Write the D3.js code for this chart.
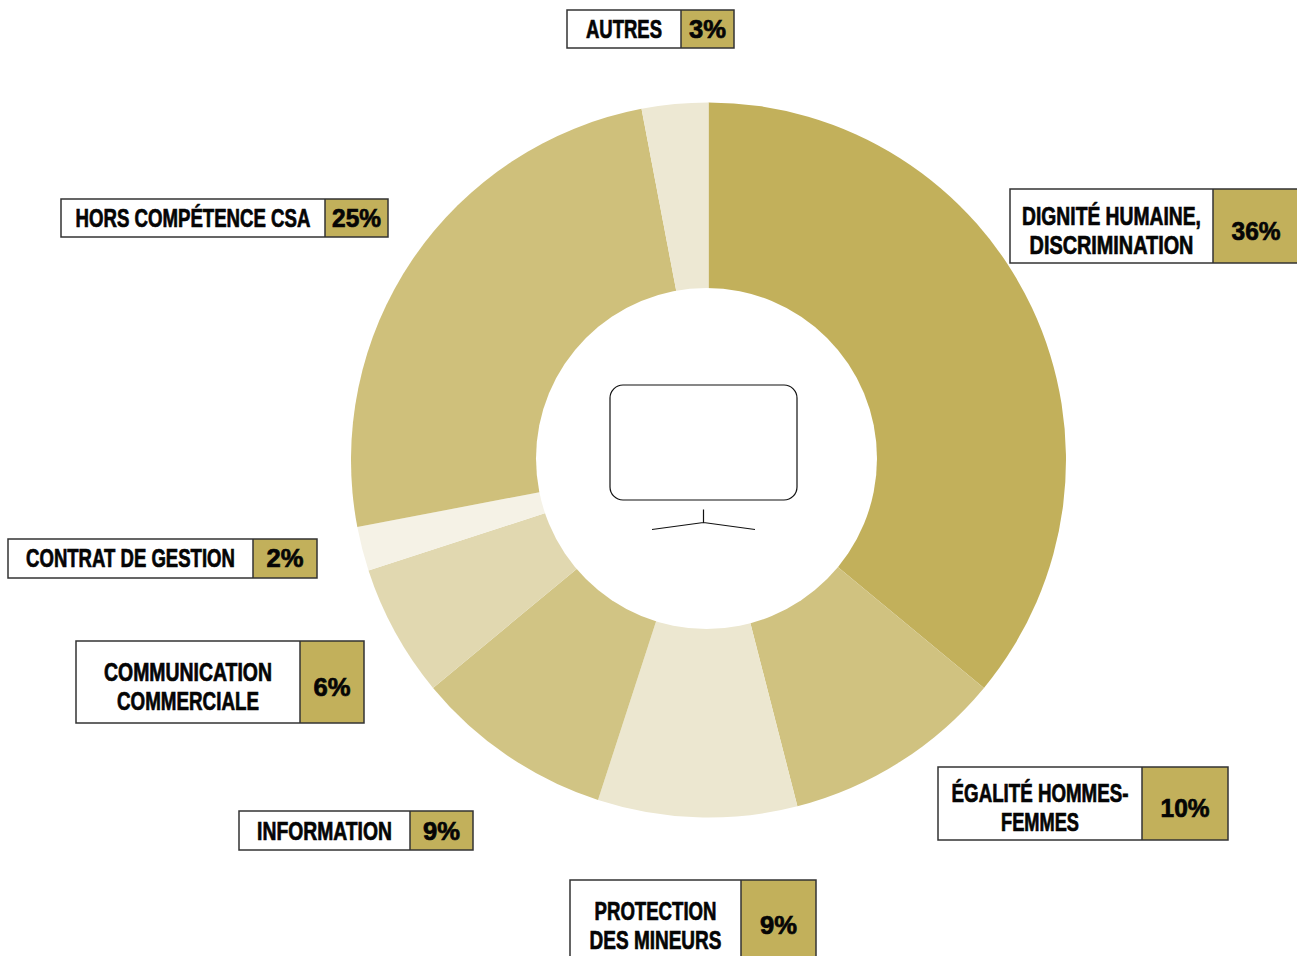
<!DOCTYPE html>
<html>
<head>
<meta charset="utf-8">
<style>
html, body { margin: 0; padding: 0; background: #fff; overflow: hidden; }
svg { display: block; }
text { font-family: "Liberation Sans Narrow", "Liberation Sans", sans-serif; font-weight: 700; font-size: 25px; fill: #050505; stroke: #050505; stroke-width: .7px; }
</style>
</head>
<body>
<svg id="chart" width="1297" height="956"></svg>
<script src="https://cdn.jsdelivr.net/npm/d3@7/dist/d3.min.js"></script>
<script>
// Complaint themes and their shares, clockwise from twelve o'clock
const categories = [
  ["DIGNITÉ HUMAINE,", "DISCRIMINATION"],
  ["ÉGALITÉ HOMMES-", "FEMMES"],
  ["PROTECTION", "DES MINEURS"],
  ["INFORMATION"],
  ["COMMUNICATION", "COMMERCIALE"],
  ["CONTRAT DE GESTION"],
  ["HORS COMPÉTENCE CSA"],
  ["AUTRES"]
];
const shares = [36, 10, 9, 9, 6, 2, 25, 3];
const sliceColors = ["#c2b05b", "#d0c280", "#ece7d0", "#d1c484", "#e1d8b0", "#f5f2e6", "#cfc07b", "#ede8d3"];

// Callout boxes: left, top, right, bottom, divider x, vertical text centre, drawn width of each text line
const boxes = [
  { x0: 1010, y0: 189, x1: 1299, y1: 263, div: 1213, mid: 230.5, lines: [179, 164], pct: 49, pctCx: 1256 },
  { x0: 938,  y0: 767, x1: 1228, y1: 840, div: 1142, mid: 807.5, lines: [177, 78],  pct: 49 },
  { x0: 570,  y0: 880, x1: 816,  y1: 960, div: 741,  mid: 925,   lines: [122, 132], pct: 37 },
  { x0: 239,  y0: 811, x1: 473,  y1: 850, div: 410,  mid: 831,   lines: [135],      pct: 37 },
  { x0: 76,   y0: 641, x1: 364,  y1: 723, div: 300,  mid: 686.5, lines: [168, 142], pct: 37 },
  { x0: 8,    y0: 539, x1: 317,  y1: 578, div: 253,  mid: 558,   lines: [209],      pct: 37 },
  { x0: 61,   y0: 199, x1: 388,  y1: 237, div: 325,  mid: 218,   lines: [235],      pct: 49 },
  { x0: 567,  y0: 10,  x1: 734,  y1: 48,  div: 681,  mid: 29,    lines: [76],       pct: 37 }
];

const svg = d3.select("#chart");
const accent = "#c2b05b";
const edge = "#333";

// Ring: the full pie first, then a slightly off-centre white disc as the hole
const pie = d3.pie().sort(null).value(d => d)(shares);
const arc = d3.arc().innerRadius(0).outerRadius(357.5);
const ring = svg.append("g").attr("transform", "translate(708.5,460)");
ring.selectAll("path").data(pie).join("path")
  .attr("d", arc)
  .attr("fill", (d, i) => sliceColors[i]);
svg.append("circle").attr("cx", 706.5).attr("cy", 458.5).attr("r", 170.5).attr("fill", "#fff");

// Television pictogram in the hole
const tv = svg.append("g").attr("fill", "none").attr("stroke", "#111").attr("stroke-width", 1.2);
tv.append("rect").attr("x", 610).attr("y", 385).attr("width", 187).attr("height", 115).attr("rx", 13);
tv.append("path").attr("d", "M703.5 509.5V522.5M652 529.5L703.5 522.5L755 529.5");

// Callouts
const capHeight = 18;
const lineGap = 29;
const callouts = svg.selectAll("g.callout").data(boxes).join("g").attr("class", "callout");
callouts.append("rect")
  .attr("x", d => d.x0).attr("y", d => d.y0)
  .attr("width", d => d.x1 - d.x0).attr("height", d => d.y1 - d.y0)
  .attr("fill", "#fff");
callouts.append("rect")
  .attr("x", d => d.div).attr("y", d => d.y0)
  .attr("width", d => d.x1 - d.div).attr("height", d => d.y1 - d.y0)
  .attr("fill", accent);
callouts.append("rect")
  .attr("x", d => d.x0).attr("y", d => d.y0)
  .attr("width", d => d.x1 - d.x0).attr("height", d => d.y1 - d.y0)
  .attr("fill", "none").attr("stroke", edge).attr("stroke-width", 1.5);
callouts.append("line")
  .attr("x1", d => d.div).attr("x2", d => d.div)
  .attr("y1", d => d.y0).attr("y2", d => d.y1)
  .attr("stroke", edge).attr("stroke-width", 1.5);

// Centred text squeezed horizontally to a given width, leaving its height alone
function fitted(g, str, cx, baseline, width) {
  const t = g.append("text").attr("text-anchor", "middle").text(str);
  const natural = t.node().getComputedTextLength();
  t.attr("transform", `translate(${cx},${baseline}) scale(${width / natural},1)`);
}

callouts.each(function (b, i) {
  const g = d3.select(this);
  const lines = categories[i];
  const firstBase = b.mid + capHeight / 2 - (lines.length - 1) * lineGap / 2;
  lines.forEach((t, k) => fitted(g, t, (b.x0 + b.div) / 2, firstBase + k * lineGap, b.lines[k]));
  const pctCx = b.pctCx !== undefined ? b.pctCx : (b.div + b.x1) / 2;
  fitted(g, shares[i] + "%", pctCx, b.mid + capHeight / 2, b.pct);
});
</script>
</body>
</html>
